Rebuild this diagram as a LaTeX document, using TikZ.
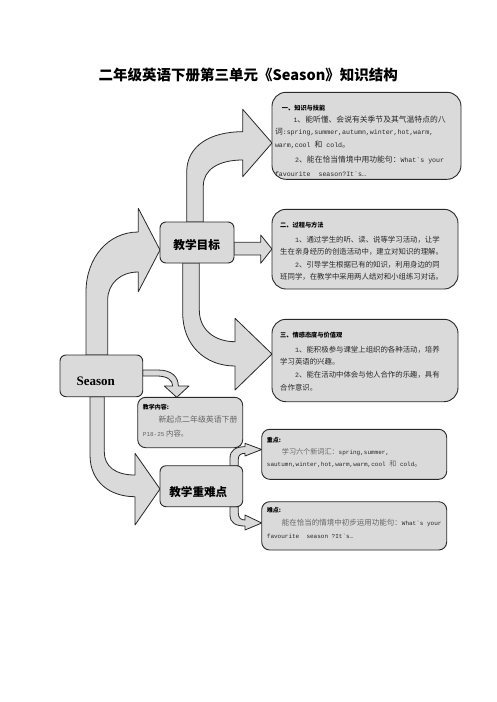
\documentclass[tikz,border=0pt]{standalone}
\usepackage{fontspec}
\setmainfont{Noto Sans CJK SC}
\setmonofont{Liberation Mono}
\newfontfamily\serifb{Liberation Serif}
\usetikzlibrary{calc}
\pgfdeclarelayer{bg}
\pgfsetlayers{bg,main}
\definecolor{boxgray}{RGB}{218,218,218}
\definecolor{txt}{RGB}{40,40,40}
\definecolor{lighttxt}{RGB}{100,100,100}
\definecolor{edge}{RGB}{40,40,40}
\newcommand\fsz[1]{\fontsize{#1pt}{#1pt}\selectfont}
\newcommand\mt[2]{{\fontsize{#1pt}{#1pt}\ttfamily #2}}
\tikzset{
  box/.style={draw=edge, fill=boxgray, line width=0.9pt, anchor=north west, inner sep=0pt, outer sep=0pt},
  blk/.style={draw=edge, fill=boxgray, line width=0.8pt, line join=round},
  ln/.style={anchor=west, inner sep=0pt, text=txt},
  lnl/.style={anchor=west, inner sep=0pt, text=lighttxt},
  hd/.style={anchor=west, inner sep=0pt, text=black, font=\bfseries\fsz{6.2}},
}
\begin{document}
\begin{tikzpicture}[x=1pt,y=-1pt]
\useasboundingbox (0,0) rectangle (496,702);
\begin{pgfonlayer}{bg}
\fill[white] (0,0) rectangle (496,702);
\end{pgfonlayer}

% title
\node[inner sep=0pt] (title) at (248.3,75) {\bfseries\fsz{14.5}二年级英语下册第三单元《Season》知识结构};

% boxes
\node[box, rounded corners=14pt, minimum width=189pt, minimum height=87pt] (b1) at (272,92.3) {};
\node[box, rounded corners=14pt, minimum width=186pt, minimum height=79.7pt] (b2) at (272,209.3) {};
\node[box, rounded corners=14pt, minimum width=186pt, minimum height=82.4pt] (b3) at (272,319.3) {};
\node[box, rounded corners=6pt, minimum width=82.7pt, minimum height=41.7pt] (season) at (60,355) {};
\node[box, rounded corners=6pt, minimum width=74pt, minimum height=41pt] (jxmb) at (160,222) {};
\node[box, rounded corners=8pt, minimum width=105pt, minimum height=50.4pt] (jxnr) at (137.7,397.3) {};
\node[box, rounded corners=6pt, minimum width=82.7pt, minimum height=41pt] (zndn) at (160,465.7) {};
\node[box, rounded corners=8pt, minimum width=185pt, minimum height=50pt] (zd) at (261.7,429.3) {};
\node[box, rounded corners=8pt, minimum width=185pt, minimum height=48.3pt] (nd) at (261.7,501.7) {};

% box labels
\node[inner sep=0pt] (seasont) at (95.8,381.7) {\serifb\bfseries\fsz{13}Season};
\node[inner sep=0pt] (jxmbt) at (196.7,245) {\bfseries\fsz{11.7}教学目标};
\node[inner sep=0pt] (zndnt) at (198.3,491.7) {\bfseries\fsz{11.6}教学重难点};

% box 1 text
\node[hd] (b1h) at (281.7,107.7) {一、知识与技能};
\node[ln, font=\fsz{7.8}] (b1a) at (293.3,120) {\mt{6.6}{1}、能听懂、会说有关季节及其气温特点的八};
\node[ln, font=\fsz{7.8}] (b1b) at (274.8,131.7) {词\mt{6.6}{:spring,summer,autumn,winter,hot,warm,}};
\node[ln, font=\fsz{7.8}] (b1c) at (274.8,145) {\mt{6.6}{warm,cool }和\mt{6.6}{ cold}。};
\node[ln, font=\fsz{7.8}] (b1d) at (295,160) {\mt{6.6}{2}、能在恰当情境中用功能句：\mt{6.6}{What`s your}};
\node[ln, font=\fsz{7.8}] (b1e) at (274.8,174.3) {\mt{6.6}{favourite\ \ season?It`s…}};

% box 2 text
\node[hd] (b2h) at (280,225) {二、过程与方法};
\node[ln, font=\fsz{7.4}] (b2a) at (295,239.3) {\mt{6.6}{1}、通过学生的听、读、说等学习活动，让学};
\node[ln, font=\fsz{7.4}] (b2b) at (280,251.7) {生在亲身经历的创造活动中，建立对知识的理解。};
\node[ln, font=\fsz{7.4}] (b2c) at (295,264.3) {\mt{6.6}{2}、引导学生根据已有的知识，利用身边的同};
\node[ln, font=\fsz{7.4}] (b2d) at (280,276.7) {班同学，在教学中采用两人结对和小组练习对话。};

% box 3 text
\node[hd] (b3h) at (280,335) {三、情感态度与价值观};
\node[ln, font=\fsz{7.4}] (b3a) at (295,349.3) {\mt{6.6}{1}、能积极参与课堂上组织的各种活动，培养};
\node[ln, font=\fsz{7.4}] (b3b) at (280,361.7) {学习英语的兴趣。};
\node[ln, font=\fsz{7.4}] (b3c) at (295,375) {\mt{6.6}{2}、能在活动中体会与他人合作的乐趣，具有};
\node[ln, font=\fsz{7.4}] (b3d) at (280,387.3) {合作意识。};

% teaching content
\node[hd, font=\bfseries\fsz{6}] (jxnrh) at (142.7,406.7) {教学内容:};
\node[lnl, font=\fsz{7.9}] (jxnra) at (158.3,420) {新起点二年级英语下册};
\node[lnl, font=\fsz{7.4}] (jxnrb) at (142.7,433.3) {\mt{6}{P18-25} 内容。};

% key points
\node[hd, font=\bfseries\fsz{6}] (zdh) at (266.7,440) {重点:};
\node[lnl, font=\fsz{7.1}] (zda) at (281.7,451.7) {学习六个新词汇：\textcolor{txt}{\mt{6}{spring,summer,}}};
\node[ln, font=\fsz{7.1}] (zdb) at (266.7,464) {\mt{6}{sautumn,winter,hot,warm,warm,cool }\textcolor{lighttxt}{和}\mt{6}{ cold}。};

% difficult points
\node[hd, font=\bfseries\fsz{6}] (ndh) at (266.7,510) {难点:};
\node[lnl, font=\fsz{7.5}] (nda) at (281.7,523.3) {能在恰当的情境中初步运用功能句：\textcolor{txt}{\mt{6}{What`s your}}};
\node[ln, font=\fsz{7.5}] (ndb) at (266.7,536.7) {\mt{6}{favourite\ \ season ?It`s…}};

\begin{pgfonlayer}{bg}
% Season -> 教学目标
\draw[blk] (86,0 |- season.north) -- (86,292) .. controls (86,258) and (108,232) .. (138.3,232)
  -- (138.3,208.3) -- (jxmb.west |- 0,250) -- (138.3,291.7) -- (138.3,272)
  .. controls (120,272) and (107.7,284) .. (107.7,300) -- (107.7,0 |- season.north) -- cycle;
% 教学目标 -> box 1
\draw[blk] (186.7,0 |- jxmb.north) -- (186.7,172) .. controls (186.7,146) and (210,131.7) .. (242.7,131.7)
  -- (242.7,109.3) -- (b1.west |- 0,143) -- (242.7,176.7) -- (242.7,160)
  .. controls (218,160) and (203.3,170) .. (203.3,186) -- (203.3,0 |- jxmb.north) -- cycle;
% 教学目标 -> box 2
\draw[blk] (jxmb.east |- 0,242.3) -- (260.7,242.3) -- (260.7,235) -- (b2.west |- 0,249)
  -- (260.7,263.3) -- (260.7,255) -- (jxmb.east |- 0,255) -- cycle;
% 教学目标 -> box 3
\draw[blk] (182.7,0 |- jxmb.south) -- (182.7,313) .. controls (182.7,345) and (205,366) .. (235,366)
  -- (235,390) -- (b3.west |- 0,354) -- (235,318.3) -- (235,341.7)
  .. controls (215,341.7) and (199.3,330) .. (199.3,310) -- (199.3,0 |- jxmb.south) -- cycle;
% Season -> 教学内容
\draw[blk] (season.east |- 0,370) -- (158,370) .. controls (172,370) and (178.3,377) .. (178.3,386)
  -- (189,386) -- (176.7,0 |- jxnr.north) -- (164.3,386) -- (172.7,386)
  .. controls (172.7,380) and (167,376) .. (157,376) -- (season.east |- 0,376) -- cycle;
% Season -> 教学重难点
\draw[blk] (90,0 |- season.south) -- (90,455) .. controls (90,482) and (110,496.7) .. (135,496.7)
  -- (135,525) -- (zndn.west |- 0,489) -- (135,453.3) -- (135,475)
  .. controls (115,475) and (104.3,466) .. (104.3,452) -- (104.3,0 |- season.south) -- cycle;
% 教学重难点 -> 重点
\draw[blk] (230,0 |- zndn.north) -- (230,458) .. controls (230,450) and (236,446.7) .. (245,446.7)
  -- (245,443.3) -- (zd.west |- 0,449.5) -- (245,456) -- (245,453.3)
  .. controls (241,453.3) and (238.3,455) .. (238.3,459) -- (238.3,0 |- zndn.north) -- cycle;
% 教学重难点 -> 难点
\draw[blk] (230,0 |- zndn.south) -- (230,515) .. controls (230,523) and (236,526) .. (245,526)
  -- (245,530) -- (nd.west |- 0,523) -- (245,515) -- (245,520)
  .. controls (241,520) and (238.3,518) .. (238.3,513) -- (238.3,0 |- zndn.south) -- cycle;
\end{pgfonlayer}
\end{tikzpicture}
\end{document}
